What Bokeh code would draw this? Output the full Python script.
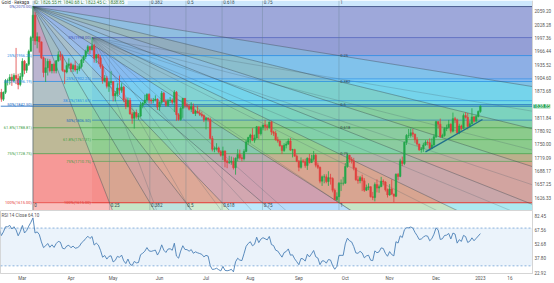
import numpy as np
from bokeh.plotting import figure
from bokeh.layouts import column
from bokeh.models import Range1d, FixedTicker, Label, PrintfTickFormatter
from bokeh.core.properties import value
from bokeh.embed import file_html
from bokeh.resources import INLINE

# ---------------- data (gold, daily) ----------------
warmup_close = [1801, 1814, 1810, 1789, 1797, 1801, 1818, 1826, 1821, 1817, 1819, 1813, 1843, 1839, 1835,
                1842, 1849, 1819, 1797, 1792, 1796, 1801, 1807, 1805, 1807, 1821, 1826, 1833, 1827, 1859]

close = [
    1871, 1855, 1871, 1898, 1898, 1906, 1898, 1910, 1903, 1889, 1908,
    1943, 1922, 1936, 1966, 1998, 2050, 1990, 2000, 1988, 1951, 1917, 1928, 1943, 1921, 1936, 1921, 1944, 1958, 1954, 1922, 1918, 1933, 1937,
    1925, 1933, 1923, 1925, 1931, 1946, 1954, 1966, 1977, 1970, 1979, 1950, 1958, 1951, 1931, 1898, 1904, 1885, 1894, 1896,
    1863, 1868, 1881, 1876, 1883, 1854, 1838, 1852, 1821, 1811, 1824, 1815, 1816, 1841, 1846, 1853, 1866, 1853, 1851, 1853, 1855, 1837,
    1848, 1869, 1850, 1841, 1852, 1853, 1848, 1871, 1819, 1808, 1834, 1857, 1840, 1839, 1832, 1838, 1822, 1827, 1823, 1820, 1817, 1807,
    1811, 1808, 1764, 1739, 1740, 1742, 1733, 1725, 1735, 1711, 1708, 1709, 1711, 1696, 1718, 1727, 1719, 1717, 1734, 1756, 1766,
    1772, 1760, 1765, 1791, 1775, 1789, 1795, 1792, 1789, 1802, 1779, 1776, 1761, 1758, 1747, 1736, 1748, 1751, 1758, 1737, 1738, 1723, 1711,
    1697, 1712, 1710, 1701, 1718, 1708, 1716, 1725, 1702, 1697, 1665, 1675, 1675, 1664, 1673, 1671, 1644, 1622, 1629, 1660, 1660, 1660,
    1699, 1725, 1716, 1712, 1695, 1668, 1666, 1673, 1666, 1644, 1650, 1652, 1629, 1627, 1657, 1649, 1652, 1665, 1663, 1645, 1633,
    1647, 1635, 1630, 1681, 1676, 1712, 1706, 1755, 1771, 1771, 1777, 1774, 1761, 1751, 1738, 1740, 1749, 1755, 1754, 1741, 1749, 1768,
    1803, 1797, 1768, 1771, 1787, 1789, 1797, 1781, 1810, 1807, 1777, 1793, 1787, 1817, 1813, 1792, 1798, 1814, 1804, 1815, 1826.55,
    1838.85]

high = [
    1874, 1879, 1873, 1902, 1903, 1913, 1914, 1915, 1974, 1914, 1916,
    1950, 1946, 1939, 1970, 2002, 2070, 2057, 2010, 2000, 1989, 1954, 1950, 1949, 1948, 1937, 1940, 1946, 1966, 1966, 1959, 1924, 1940, 1950,
    1940, 1937, 1944, 1933, 1938, 1949, 1957, 1970, 1981, 1978, 1998, 1983, 1960, 1960, 1957, 1936, 1911, 1909, 1897, 1920,
    1897, 1874, 1892, 1910, 1892, 1886, 1859, 1859, 1858, 1826, 1825, 1831, 1823, 1849, 1849, 1865, 1869, 1869, 1857, 1858, 1864, 1857,
    1850, 1874, 1872, 1855, 1856, 1860, 1857, 1876, 1874, 1823, 1837, 1858, 1857, 1847, 1844, 1848, 1845, 1831, 1840, 1830, 1826, 1820,
    1813, 1813, 1812, 1770, 1745, 1753, 1745, 1737, 1745, 1736, 1715, 1724, 1722, 1720, 1720, 1739, 1738, 1727, 1739, 1760, 1768,
    1775, 1788, 1773, 1793, 1791, 1792, 1796, 1807, 1797, 1803, 1805, 1782, 1782, 1768, 1761, 1749, 1753, 1757, 1764, 1765, 1740, 1740, 1727,
    1714, 1720, 1716, 1717, 1720, 1728, 1726, 1735, 1729, 1708, 1699, 1678, 1681, 1681, 1688, 1682, 1674, 1648, 1639, 1663, 1669, 1675,
    1707, 1729, 1726, 1721, 1719, 1697, 1677, 1677, 1680, 1672, 1657, 1660, 1653, 1640, 1662, 1669, 1657, 1675, 1669, 1665, 1648,
    1658, 1669, 1636, 1683, 1684, 1717, 1722, 1757, 1774, 1786, 1787, 1786, 1775, 1767, 1752, 1744, 1754, 1760, 1760, 1764, 1764, 1774,
    1805, 1804, 1810, 1775, 1790, 1796, 1807, 1799, 1824, 1814, 1810, 1798, 1796, 1822, 1825, 1823, 1804, 1834, 1816, 1819, 1829,
    1840.68]

low = [
    1854, 1849, 1851, 1867, 1887, 1889, 1886, 1895, 1890, 1878, 1885,
    1900, 1913, 1916, 1932, 1966, 1990, 1981, 1973, 1963, 1948, 1906, 1895, 1910, 1917, 1915, 1915, 1915, 1942, 1945, 1919, 1890, 1915, 1926,
    1918, 1918, 1919, 1914, 1920, 1927, 1939, 1948, 1961, 1960, 1968, 1940, 1939, 1936, 1926, 1891, 1894, 1880, 1872, 1888,
    1850, 1850, 1861, 1865, 1870, 1848, 1832, 1836, 1819, 1798, 1787, 1810, 1807, 1813, 1834, 1842, 1847, 1845, 1844, 1846, 1850, 1830,
    1828, 1843, 1848, 1837, 1837, 1846, 1843, 1825, 1805, 1805, 1805, 1812, 1834, 1834, 1829, 1825, 1821, 1816, 1822, 1816, 1813, 1802,
    1785, 1803, 1763, 1734, 1732, 1736, 1730, 1722, 1714, 1697, 1695, 1705, 1703, 1692, 1680, 1711, 1715, 1711, 1713, 1732, 1750,
    1754, 1758, 1754, 1764, 1763, 1771, 1783, 1782, 1783, 1787, 1772, 1770, 1759, 1754, 1745, 1728, 1733, 1741, 1749, 1735, 1720, 1722, 1709,
    1688, 1694, 1707, 1696, 1691, 1706, 1708, 1712, 1697, 1693, 1660, 1654, 1660, 1660, 1654, 1657, 1639, 1621, 1619, 1615, 1642, 1655,
    1659, 1696, 1708, 1706, 1690, 1666, 1659, 1660, 1642, 1640, 1642, 1644, 1627, 1621, 1618, 1639, 1638, 1652, 1655, 1641, 1627,
    1631, 1633, 1616, 1628, 1667, 1674, 1700, 1702, 1749, 1765, 1766, 1767, 1754, 1747, 1735, 1731, 1733, 1747, 1748, 1739, 1739, 1745,
    1765, 1787, 1766, 1765, 1768, 1781, 1788, 1776, 1778, 1800, 1774, 1774, 1782, 1787, 1810, 1785, 1789, 1797, 1801, 1803, 1813,
    1823.45]

month_pos = [11, 34, 54, 76, 98, 119, 142, 164, 185, 207, 228, 242]
month_lbl = ["Mar", "Apr", "May", "Jun", "Jul", "Aug", "Sep", "Oct", "Nov", "Dec", "2023", "16"]

price_ticks = [2059.20, 2028.28, 1997.36, 1966.44, 1935.52, 1904.60, 1873.68,
               1811.84, 1780.92, 1750.00, 1719.09, 1688.17, 1657.25, 1626.33]
rsi_ticks = [82.45, 67.56, 52.68, 37.80, 22.92]
rsi_bands = [30, 70]

levels = [0, 0.25, 0.382, 0.5, 0.618, 0.75, 1]
fan1_idx = (16, 161)   # bar of the high, bar of the low
fan2_idx = (44, 161)
trend_x = [202, 229]
trend_p = [1733, 1808]

title_txt = "Gold · Rekaga"

# ---------------- styles / frame ----------------
FRAME_W, AXIS_W, TOTAL_W = 532, 22, 554
X_MIN, X_EDGE = 0.62, 252.7
X_FULL = X_MIN + (X_EDGE - X_MIN) * TOTAL_W / FRAME_W
P_MIN, P_MAX = 1596.9, 2084.0
R_MIN, R_MAX = 21.9, 88.6
FONT = "Roboto"

sector_colors = ["#ef5350", "#66bb6a", "#4db6ac", "#81c784", "#4fc3f7", "#42a5f5",
                 "#66bb6a", "#26c6da", "#4db6ac", "#4caf50", "#26c6da", "#5c6bc0"]
band_colors = ["#5c6bc0", "#42a5f5", "#26c6da", "#4caf50", "#4caf50", "#ef5350"]
line_colors = ["#3f51b5", "#1e88e5", "#1e88e5", "#1565c0", "#43a047", "#43a047", "#e53935"]

n = len(close)
idx = np.arange(n)
c = np.array(close, float)
h = np.array(high, float)
l = np.array(low, float)
o = np.array([warmup_close[-1]] + close[:-1], float)

# RSI 14 (Wilder) from the closes
allc = np.array(warmup_close + close, float)
d = np.diff(allc)
gains = np.clip(d, 0, None)
losses = np.clip(-d, 0, None)
ag, al = gains[:14].mean(), losses[:14].mean()
rsi_all = [np.nan] * 14 + [100 - 100 / (1 + ag / al)]
for j in range(14, len(d)):
    ag = (ag * 13 + gains[j]) / 14
    al = (al * 13 + losses[j]) / 14
    rsi_all.append(100 - 100 / (1 + ag / al))
rsi = np.array(rsi_all[-n:])

# ---------------- main figure (price scale drawn in its right strip) ----------------
p = figure(frame_width=TOTAL_W, frame_height=210, x_range=Range1d(X_MIN, X_FULL),
           y_range=Range1d(P_MIN, P_MAX), x_axis_location=None, y_axis_location=None,
           toolbar_location=None, output_backend="svg", min_border_left=0, min_border_right=0,
           min_border_top=0, min_border_bottom=0, outline_line_color=None)
p.grid.visible = False


def fan_geometry(i0, i1):
    return float(i0), float(high[i0]), float(i1), float(low[i1])


def extend(x0, p0, xt, pt):
    dx, dp = xt - x0, pt - p0
    tx = (X_EDGE - x0) / dx if dx > 0 else np.inf
    tp = (P_MIN - p0) / dp if dp < 0 else np.inf
    t = min(tx, tp)
    return x0 + t * dx, p0 + t * dp


def fan_lines(x0, p0, x1, p1):
    ends = []
    for k in levels:                      # time fan lines
        ends.append(extend(x0, p0, x0 + k * (x1 - x0), p1))
    for k in reversed(levels[:-1]):       # price fan lines
        ends.append(extend(x0, p0, x1, p0 - k * (p0 - p1)))
    return ends


x0, p0, x1, p1 = fan_geometry(*fan1_idx)
dp1 = p0 - p1
ends1 = fan_lines(x0, p0, x1, p1)

# top strip
p.quad(left=x0, right=X_EDGE, bottom=p0, top=P_MAX, fill_color="#90caf9", fill_alpha=0.45, line_color=None)

# sectors
xs, ys = [], []
for a, b in zip(ends1[:-1], ends1[1:]):
    px, py = [x0, a[0]], [p0, a[1]]
    if abs(a[1] - P_MIN) < 1e-6 and abs(b[0] - X_EDGE) < 1e-6 and abs(b[1] - P_MIN) > 1e-6:
        px.append(X_EDGE)
        py.append(P_MIN)
    px.append(b[0])
    py.append(b[1])
    xs.append(px)
    ys.append(py)
p.patches(xs, ys, fill_color=sector_colors, fill_alpha=0.38, line_color=None)

# fan 1 horizontal bands
tops = [p0 - levels[j] * dp1 for j in range(6)]
bots = [p0 - levels[j + 1] * dp1 for j in range(6)]
p.quad(left=x0, right=X_EDGE, top=tops, bottom=bots, fill_color=band_colors, fill_alpha=0.34, line_color=None)

# fan 2
f2x0, f2p0, f2x1, f2p1 = fan_geometry(*fan2_idx)
dp2 = f2p0 - f2p1
tops2 = [f2p0 - levels[j] * dp2 for j in range(6)]
bots2 = [f2p0 - levels[j + 1] * dp2 for j in range(6)]
p.quad(left=f2x0, right=X_EDGE, top=tops2, bottom=bots2, fill_color=band_colors, fill_alpha=0.14, line_color=None)
ends2 = fan_lines(f2x0, f2p0, f2x1, f2p1)
p.segment(x0=[f2x0] * len(ends2[1:-1]), y0=[f2p0] * len(ends2[1:-1]),
          x1=[e[0] for e in ends2[1:-1]], y1=[e[1] for e in ends2[1:-1]],
          line_color="#455a64", line_alpha=0.4, line_width=0.6)
lv2 = [f2p0 - k * dp2 for k in levels]
p.segment(x0=[f2x0] * 7, y0=lv2, x1=[X_EDGE] * 7, y1=lv2, line_color=line_colors, line_alpha=0.7, line_width=0.8)

# fan 1 grid lines
lv1 = [p0 - k * dp1 for k in levels]
p.segment(x0=[x0] * 7, y0=lv1, x1=[X_EDGE] * 7, y1=lv1, line_color=line_colors, line_alpha=0.8, line_width=0.9)
vx = [x0 + k * (x1 - x0) for k in levels]
p.segment(x0=vx, y0=[P_MIN] * 7, x1=vx, y1=[P_MAX] * 7, line_color="#607d8b", line_alpha=0.55, line_width=0.6)
p.segment(x0=[x0] * len(ends1), y0=[p0] * len(ends1), x1=[e[0] for e in ends1], y1=[e[1] for e in ends1],
          line_color="#37474f", line_alpha=0.6, line_width=0.7)

# current price line
p.segment(x0=[X_MIN], y0=[close[-1]], x1=[X_EDGE], y1=[close[-1]], line_color="#1565c0", line_alpha=0.8, line_width=1)

# candles
colors = ["#22a74a" if cc >= oo else "#e0403f" for cc, oo in zip(c, o)]
p.segment(x0=idx, y0=l, x1=idx, y1=h, line_color=colors, line_width=0.8)
p.vbar(x=idx, width=0.75, top=np.maximum(o, c), bottom=np.minimum(o, c), fill_color=colors,
       line_color=colors, line_width=0.5)

# trend line
p.line(trend_x, trend_p, line_color="#1f6f8b", line_width=1.4)

# drawing labels
lab_font = value(FONT)
p.text(x=[v + 0.6 for v in vx], y=[P_MAX - 3.5] * 7, text=[f"{k:g}" for k in levels],
       text_font=lab_font, text_font_size="4.5px", text_color="#37474f", text_baseline="middle")
p.text(x=[v + 0.6 for v in vx], y=[p1 - 4.5] * 7, text=[f"{k:g}" for k in levels],
       text_font=lab_font, text_font_size="4.5px", text_color="#37474f", text_baseline="middle")
p.text(x=[x1 + 0.6] * 5, y=lv1[1:6], text=[f"{k:g}" for k in levels[1:6]],
       text_font=lab_font, text_font_size="4px", text_color="#37474f", text_baseline="middle")
p.text(x=[x0 - 0.5] * 7, y=lv1, text=[f"{k * 100:g}%({v:.2f})" for k, v in zip(levels, lv1)],
       text_font=lab_font, text_font_size="4px", text_color=line_colors, text_align="right",
       text_baseline="middle")
p.text(x=[f2x0 - 0.5] * 7, y=lv2, text=[f"{k * 100:g}%({v:.2f})" for k, v in zip(levels, lv2)],
       text_font=lab_font, text_font_size="4px", text_color=line_colors, text_align="right",
       text_baseline="middle")

# price scale strip
p.quad(left=X_EDGE, right=X_FULL, bottom=P_MIN, top=P_MAX, fill_color="white", line_color=None)
p.segment(x0=[X_EDGE], y0=[P_MIN], x1=[X_EDGE], y1=[P_MAX], line_color="#d5d5d5", line_width=1)
p.text(x=[X_EDGE] * len(price_ticks), y=price_ticks, text=[f"{t:.2f}" for t in price_ticks],
       x_offset=2, text_font=lab_font, text_font_size="4.6px", text_color="#555555", text_baseline="middle")

p.add_layout(Label(x=X_MIN + 0.5, y=P_MAX - 3.5, text=title_txt, text_font=FONT, text_font_size="4.5px",
                   text_color="#333333", text_baseline="middle"))
p.add_layout(Label(x=x0 + 1, y=P_MAX - 3.5,
                   text=f"O: {o[-1]:.2f}  H: {h[-1]:.2f}  L: {l[-1]:.2f}  C: {c[-1]:.2f}",
                   text_font=FONT, text_font_size="4.5px", text_color="#2e7d32", text_baseline="middle",
                   background_fill_color="white", background_fill_alpha=0.75))
p.add_layout(Label(x=X_EDGE, y=close[-1], x_offset=1, text=f"{close[-1]:.2f}", text_font=FONT,
                   text_font_size="4.6px", text_color="white", text_baseline="middle",
                   background_fill_color="#1b9e4b"))

# ---------------- RSI figure ----------------
r = figure(frame_width=FRAME_W, frame_height=63, x_range=Range1d(X_MIN, X_EDGE), y_range=Range1d(R_MIN, R_MAX),
           y_axis_location="right", toolbar_location=None, output_backend="svg",
           min_border_left=0, min_border_right=AXIS_W, min_border_top=0, min_border_bottom=10,
           outline_line_color="#d5d5d5")
r.grid.visible = False
r.quad(left=X_MIN, right=X_EDGE, bottom=rsi_bands[0], top=rsi_bands[1], fill_color="#dbeaf8",
       fill_alpha=0.55, line_color=None)
for b in rsi_bands:
    r.segment(x0=[X_MIN], y0=[b], x1=[X_EDGE], y1=[b], line_color="#6d9fd3", line_dash="2 2", line_width=0.8)
r.line(idx, rsi, line_color="#4a7fb5", line_width=0.9)
r.add_layout(Label(x=X_MIN + 0.5, y=R_MAX - 5, text=f"RSI 14 Close  {rsi[-1]:.2f}", text_font=FONT,
                   text_font_size="4.5px", text_color="#555555", text_baseline="middle"))
ry = r.yaxis[0]
ry.ticker = FixedTicker(ticks=rsi_ticks)
ry.formatter = PrintfTickFormatter(format="%.2f")
rx = r.xaxis[0]
rx.ticker = FixedTicker(ticks=month_pos)
rx.major_label_overrides = {pos: lbl for pos, lbl in zip(month_pos, month_lbl)}
for ax in (ry, rx):
    ax.major_label_text_font_size = "4.6px"
    ax.major_label_text_font = FONT
    ax.major_label_text_color = "#555555"
    ax.major_tick_line_color = None
    ax.major_tick_out = 0
    ax.minor_tick_line_color = None
    ax.minor_tick_out = 0
    ax.axis_line_color = "#d5d5d5"
    ax.major_label_standoff = 2

lay = column(p, r)
open("out.html", "w").write(file_html(lay, INLINE))
